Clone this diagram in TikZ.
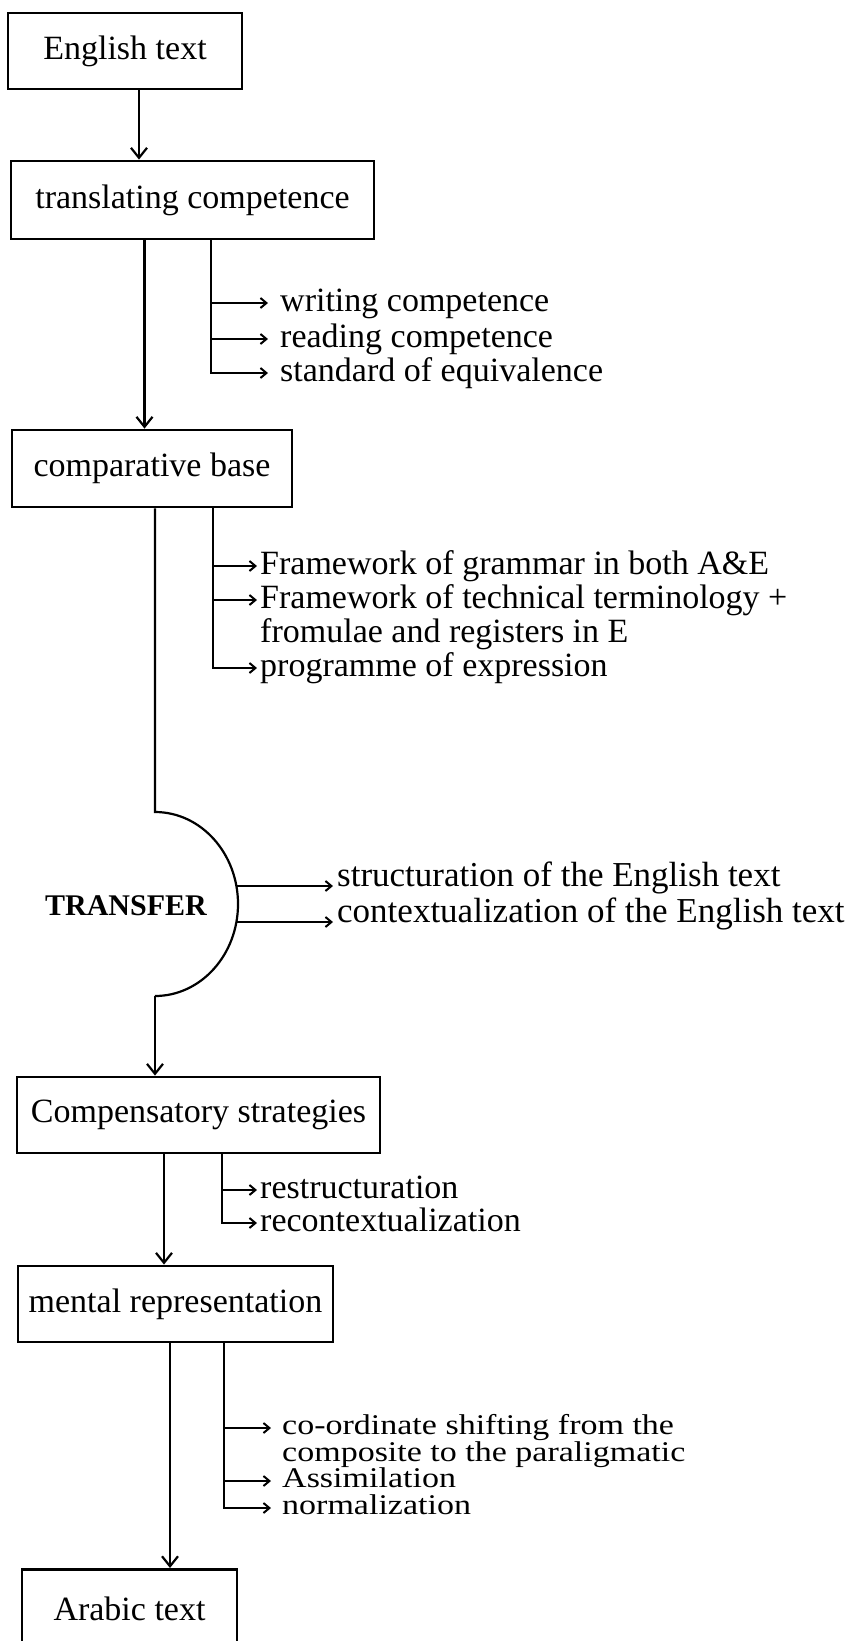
\documentclass[tikz,border=0pt]{standalone}
\usepackage{fontspec}
\setmainfont{Liberation Serif}
\usetikzlibrary{arrows.meta}
\newcommand\fs{\fontsize{34}{36}\selectfont}

\begin{document}
\begin{tikzpicture}[x=1pt, y=1pt,
	box/.style={draw, line width=2.8pt, inner sep=0pt, font=\fs},
	line/.style={line width=2.2pt},
	arr/.style={line, -{Straight Barb[length=10pt, width=16pt, line width=2.2pt]}},
	sarr/.style={line width=2pt, -{Straight Barb[length=6pt, width=10pt, line width=2pt]}},
	lbl/.style={anchor=west, inner sep=0pt, font=\fs, text height=24pt, text depth=7.5pt},
	tight/.style={lbl, yscale=0.84, transform shape}]
	\useasboundingbox (0,0) rectangle (848,-1641);
	\clip (0,0) rectangle (848,-1641);

	% the boxes of the chain
	\node[box, minimum width=234pt, minimum height=76pt] (english) at (125,-51) {English text};
	\node[box, minimum width=363pt, minimum height=78pt] (translating) at (192.5,-200) {translating competence};
	\node[box, minimum width=280pt, minimum height=77pt] (comparative) at (152,-468.5) {comparative base};
	\node[font=\fontsize{30}{32}\selectfont\bfseries] (transfer) at (126,-906) {TRANSFER};
	\node[box, minimum width=363pt, minimum height=76pt] (compensatory) at (198.5,-1115) {Compensatory strategies};
	\node[box, minimum width=315pt, minimum height=76pt] (mental) at (175.5,-1304) {mental representation};
	\node[box, anchor=north, minimum width=215pt, minimum height=100pt, text depth=22pt] (arabic) at (129.5,-1568) {Arabic text};

	% side lists
	\node[lbl] (writing) at (280,-303) {writing competence};
	\node[lbl] (reading) at (280,-339) {reading competence};
	\node[lbl] (standard) at (280,-373) {standard of equivalence};

	\node[lbl] (grammar) at (260,-566) {Framework of grammar in both A\&E};
	\node[lbl] (terms) at (260,-600) {Framework of technical terminology +};
	\node[lbl] (formulae) at (260,-634) {fromulae and registers in E};
	\node[lbl] (programme) at (260,-668) {programme of expression};

	\node[lbl, font=\fontsize{35}{37}\selectfont] (structuration) at (337,-878) {structuration of the English text};
	\node[lbl, font=\fontsize{35}{37}\selectfont] (contextualization) at (337,-914) {contextualization of the English text};

	\node[lbl] (restructuration) at (260,-1190) {restructuration};
	\node[lbl] (recontextualization) at (260,-1223) {recontextualization};

	\node[tight] (shifting) at (282,-1428) {co-ordinate shifting from the};
	\node[tight] (composite) at (282,-1455) {composite to the paraligmatic};
	\node[tight] (assimilation) at (282,-1481) {Assimilation};
	\node[tight] (normalization) at (282,-1508) {normalization};

	% main line
	\coordinate (e1) at ([xshift=14pt]english.south);
	\draw[arr] (e1) -- (e1 |- translating.north);
	\coordinate (t1) at ([xshift=-48pt]translating.south);
	\draw[arr] (t1) -- (t1 |- comparative.north);
	\coordinate (c1) at ([xshift=3pt]comparative.south);
	\coordinate (atop) at (155,-812);
	\draw[line] (c1) -- (atop) arc[start angle=90, end angle=-90, x radius=83pt, y radius=92pt] coordinate (abot);
	\draw[arr] (abot) -- (abot |- compensatory.north);
	\coordinate (s1) at ([xshift=-34.5pt]compensatory.south);
	\draw[arr] (s1) -- (s1 |- mental.north);
	\coordinate (m1) at ([xshift=-5.5pt]mental.south);
	\draw[arr] (m1) -- (m1 |- arabic.north);

	% branches
	\coordinate (tb) at ([xshift=18.5pt]translating.south);
	\draw[sarr, shorten >=12pt] (tb |- writing.west) -- (writing.west);
	\draw[sarr, shorten >=12pt] (tb |- reading.west) -- (reading.west);
	\draw[sarr, shorten >=12pt] (tb) |- (standard.west);

	\coordinate (cb) at ([xshift=61pt]comparative.south);
	\draw[sarr, shorten >=3pt] (cb |- grammar.west) -- (grammar.west);
	\draw[sarr, shorten >=3pt] (cb |- terms.west) -- (terms.west);
	\draw[sarr, shorten >=3pt] (cb) |- (programme.west);

	\coordinate (a1) at (236,-886);
	\coordinate (a2) at (236,-922);
	\draw[sarr, shorten >=4pt] (a1) -- (a1 -| structuration.west);
	\draw[sarr, shorten >=4pt] (a2) -- (a2 -| contextualization.west);

	\coordinate (pb) at ([xshift=23.5pt]compensatory.south);
	\draw[sarr, shorten >=3pt] (pb |- restructuration.west) -- (restructuration.west);
	\draw[sarr, shorten >=3pt] (pb) |- (recontextualization.west);

	\coordinate (mb) at ([xshift=48.5pt]mental.south);
	\draw[sarr, shorten >=11pt] (mb |- shifting.west) -- (shifting.west);
	\draw[sarr, shorten >=11pt] (mb |- assimilation.west) -- (assimilation.west);
	\draw[sarr, shorten >=11pt] (mb) |- (normalization.west);
\end{tikzpicture}
\end{document}
